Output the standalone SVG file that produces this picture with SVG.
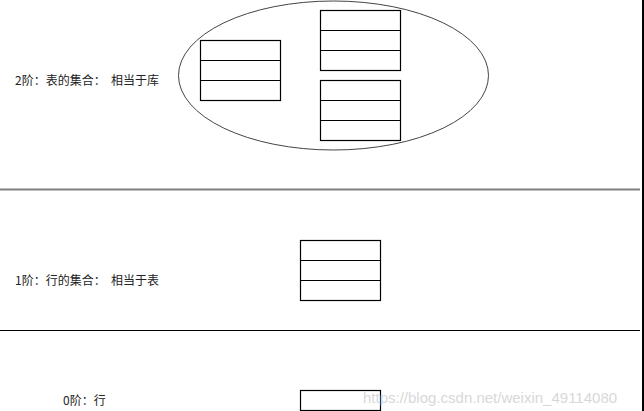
<svg xmlns="http://www.w3.org/2000/svg" width="644" height="411" viewBox="0 0 644 411">
<style>
.lbl{font-family:"Noto Sans CJK SC","Microsoft YaHei",sans-serif;font-size:12px;fill:#222;white-space:pre}
.tbl rect,.tbl line{fill:#fff;stroke:#000;stroke-width:1.2}
.wm{font-family:"Liberation Sans",Arial,sans-serif;font-size:15px;fill:#d8d8d8}
</style>
<rect width="644" height="411" fill="#fff"/>
<g id="separators">
<line x1="0" y1="189.5" x2="640" y2="189.5" stroke="#808080" stroke-width="2"/>
<line x1="0" y1="330.5" x2="640" y2="330.5" stroke="#000" stroke-width="1"/>
<rect x="642" y="0" width="2" height="411" fill="#000"/>
</g>
<g id="label2"><text class="lbl" x="15" y="85" xml:space="preserve">2阶：表的集合：  相当于库</text></g>
<g id="label1"><text class="lbl" x="15" y="285" xml:space="preserve">1阶：行的集合：  相当于表</text></g>
<g id="label0"><text class="lbl" x="63" y="405">0阶：行</text></g>
<g id="database"><ellipse cx="333.5" cy="75.5" rx="155" ry="74.5" fill="none" stroke="#444" stroke-width="1"/></g>
<g id="tableA" class="tbl"><rect x="200.5" y="40.5" width="80" height="60"/><line x1="200.5" y1="60.5" x2="280.5" y2="60.5"/><line x1="200.5" y1="80.5" x2="280.5" y2="80.5"/></g>
<g id="tableB" class="tbl"><rect x="320.5" y="10.5" width="80" height="60"/><line x1="320.5" y1="30.5" x2="400.5" y2="30.5"/><line x1="320.5" y1="50.5" x2="400.5" y2="50.5"/></g>
<g id="tableC" class="tbl"><rect x="320.5" y="80.5" width="80" height="60"/><line x1="320.5" y1="100.5" x2="400.5" y2="100.5"/><line x1="320.5" y1="120.5" x2="400.5" y2="120.5"/></g>
<g id="tableD" class="tbl"><rect x="300.5" y="240.5" width="80" height="60"/><line x1="300.5" y1="260.5" x2="380.5" y2="260.5"/><line x1="300.5" y1="280.5" x2="380.5" y2="280.5"/></g>
<g id="row" class="tbl"><rect x="300.5" y="390.5" width="80" height="20"/></g>
<g id="watermark"><text class="wm" x="363" y="403">https://blog.csdn.net/weixin_49114080</text></g>
</svg>
